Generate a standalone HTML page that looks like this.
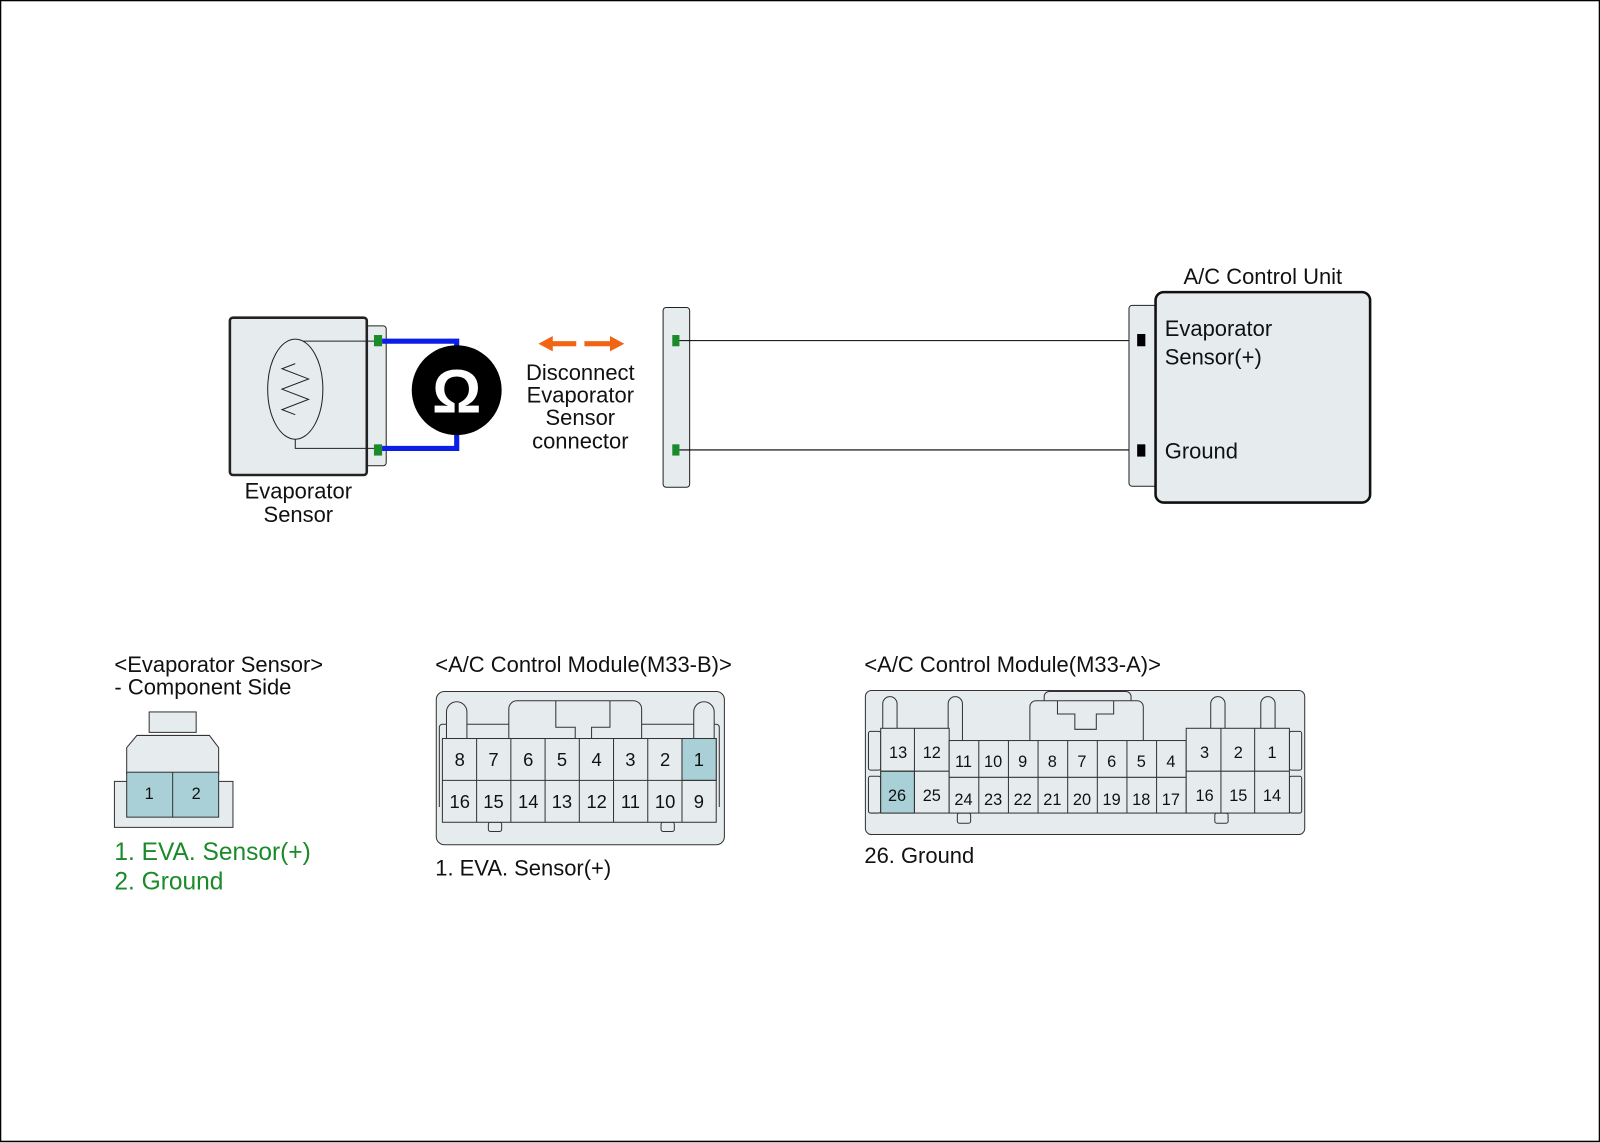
<!DOCTYPE html>
<html><head><meta charset="utf-8"><style>
html,body{margin:0;padding:0;background:#fff;}
svg{display:block;}
text{font-family:"Liberation Sans",sans-serif;fill:#111;}
</style></head><body>
<svg width="1600" height="1143" viewBox="0 0 1566 1119" preserveAspectRatio="none" xmlns="http://www.w3.org/2000/svg">
<rect x="0.5" y="0.5" width="1565" height="1117" fill="#fff" stroke="#000" stroke-width="1.5"/>
<g stroke="#222" fill="#e6ecee">
<rect x="358" y="319" width="20" height="137" rx="3" stroke-width="1"/>
<rect x="225" y="311" width="134" height="154" rx="3" stroke-width="2.5"/>
<polyline points="370,334 289,334 289,439 370,439" fill="none" stroke-width="1"/>
<ellipse cx="289" cy="381" rx="27" ry="49" stroke-width="1"/>
<polyline points="289,356 276,361 302,371 276,381 302,391 276,401 289,406" fill="none" stroke-width="1"/>
</g>
<rect x="366" y="328" width="8" height="11" fill="#1a8a2a"/>
<rect x="366" y="435" width="8" height="11" fill="#1a8a2a"/>
<polyline points="374,334 447,334 447,360" fill="none" stroke="#0a1ee8" stroke-width="5"/>
<polyline points="374,439 447,439 447,410" fill="none" stroke="#0a1ee8" stroke-width="5"/>
<circle cx="447" cy="382" r="44" fill="#000"/>
<text x="447" y="404" font-size="60" font-weight="bold" text-anchor="middle" style="fill:#fff">Ω</text>
<g fill="#f06414">
<rect x="538" y="334" width="26" height="5"/><polygon points="527,336.5 541,329 541,344"/>
<rect x="572" y="334" width="26" height="5"/><polygon points="611,336.5 597,329 597,344"/>
</g>
<g font-size="21.5" text-anchor="middle">
<text x="568" y="372">Disconnect</text>
<text x="568" y="394">Evaporator</text>
<text x="568" y="416">Sensor</text>
<text x="568" y="439">connector</text>
<text x="292" y="488">Evaporator</text>
<text x="292" y="511">Sensor</text>
<text x="1236" y="278">A/C Control Unit</text>
</g>
<rect x="649" y="301" width="26" height="176" rx="3" fill="#e6ecee" stroke="#222" stroke-width="1"/>
<rect x="658" y="328" width="7" height="11" fill="#1a8a2a"/>
<rect x="658" y="435" width="7" height="11" fill="#1a8a2a"/>
<line x1="665" y1="333.5" x2="1113" y2="333.5" stroke="#000" stroke-width="1"/>
<line x1="665" y1="440.5" x2="1113" y2="440.5" stroke="#000" stroke-width="1"/>
<rect x="1105" y="299" width="30" height="177" rx="3" fill="#e6ecee" stroke="#222" stroke-width="1"/>
<rect x="1131" y="286" width="210" height="206" rx="8" fill="#e6ecee" stroke="#111" stroke-width="2.5"/>
<rect x="1113" y="327" width="8" height="12" fill="#000"/>
<rect x="1113" y="435" width="8" height="12" fill="#000"/>
<g font-size="21.5">
<text x="1140" y="329">Evaporator</text>
<text x="1140" y="357">Sensor(+)</text>
<text x="1140" y="449">Ground</text>
<text x="112" y="658">&lt;Evaporator Sensor&gt;</text>
<text x="112" y="680">- Component Side</text>
<text x="426" y="658">&lt;A/C Control Module(M33-B)&gt;</text>
<text x="846" y="658">&lt;A/C Control Module(M33-A)&gt;</text>
<text x="426" y="857">1. EVA. Sensor(+)</text>
<text x="846" y="845">26. Ground</text>
</g>
<g font-size="24">
<text x="112" y="842" style="fill:#1a8a2a">1. EVA. Sensor(+)</text>
<text x="112" y="871" style="fill:#1a8a2a">2. Ground</text>
</g>
<g stroke="#333" stroke-width="1" fill="#e6ecee">
<rect x="112" y="765" width="116" height="45"/>
<rect x="146" y="697" width="46" height="20"/>
<polygon points="124,758 124,732 134,720 205,720 214,732 214,758"/>
<rect x="124" y="756" width="90" height="44" fill="#a9d0d6"/>
<line x1="169" y1="756" x2="169" y2="800"/>
</g>
<g font-size="16" text-anchor="middle"><text x="146" y="782">1</text><text x="192" y="782">2</text></g>
<g stroke="#333" stroke-width="1" fill="#e6ecee">
<rect x="427" y="677" width="282" height="150" rx="8"/>
<path d="M430,790 V712 a3,3 0 0 1 3,-3 H701 a3,3 0 0 1 3,3 V790" fill="none"/>
<path d="M437,723 V697 a10,10 0 0 1 20,0 V723" />
<path d="M679,723 V697 a10,10 0 0 1 20,0 V723" />
<path d="M498,723 V694 a8,8 0 0 1 8,-8 H620 a8,8 0 0 1 8,8 V723"/>
<path d="M544,686 V712 H563 V723 M579,723 V712 H597 V686" fill="none"/>
<rect x="478" y="805" width="13" height="9" rx="2"/>
<rect x="647" y="805" width="13" height="9" rx="2"/>
</g>
<g stroke="#333" stroke-width="1" fill="#e6ecee">
<rect x="433" y="723" width="268" height="82"/>
<rect x="667.5" y="723" width="33.5" height="41" fill="#a9d0d6"/>
<line x1="433" y1="764" x2="701" y2="764"/>
<line x1="466.5" y1="723" x2="466.5" y2="805"/><line x1="500" y1="723" x2="500" y2="805"/>
<line x1="533.5" y1="723" x2="533.5" y2="805"/><line x1="567" y1="723" x2="567" y2="805"/>
<line x1="600.5" y1="723" x2="600.5" y2="805"/><line x1="634" y1="723" x2="634" y2="805"/>
<line x1="667.5" y1="723" x2="667.5" y2="805"/>
</g>
<g font-size="18" text-anchor="middle">
<text x="450" y="750">8</text><text x="483" y="750">7</text><text x="517" y="750">6</text><text x="550" y="750">5</text><text x="584" y="750">4</text><text x="617" y="750">3</text><text x="651" y="750">2</text><text x="684" y="750">1</text>
<text x="450" y="791">16</text><text x="483" y="791">15</text><text x="517" y="791">14</text><text x="550" y="791">13</text><text x="584" y="791">12</text><text x="617" y="791">11</text><text x="651" y="791">10</text><text x="684" y="791">9</text>
</g>
<g stroke="#333" stroke-width="1" fill="#e6ecee">
<rect x="847" y="676" width="430" height="141" rx="6"/>
<rect x="850" y="716" width="12" height="38" rx="2"/><rect x="850" y="760" width="12" height="36" rx="2"/>
<rect x="1262" y="716" width="12" height="38" rx="2"/><rect x="1262" y="760" width="12" height="36" rx="2"/>
<path d="M864,713 V689 a7,7 0 0 1 14,0 V713"/>
<path d="M928,713 V689 a7,7 0 0 1 14,0 V725"/>
<path d="M1185,713 V689 a7,7 0 0 1 14,0 V713"/>
<path d="M1234,713 V689 a7,7 0 0 1 14,0 V713"/>
<path d="M1022,686 V682 a5,5 0 0 1 5,-5 H1102 a5,5 0 0 1 5,5 V686"/>
<path d="M1008,725 V692 a6,6 0 0 1 6,-6 H1113 a6,6 0 0 1 6,6 V725"/>
<path d="M1035,686 V699 H1052 V714 H1073 V699 H1090 V686" fill="none"/>
<rect x="937" y="796" width="13" height="10" rx="2"/>
<rect x="1189" y="796" width="13" height="10" rx="2"/>
<rect x="862" y="713" width="67" height="83"/>
<rect x="929" y="725" width="232" height="71"/>
<rect x="1161" y="713" width="101" height="83"/>
<rect x="862" y="755" width="33" height="41" fill="#a9d0d6"/>
<line x1="862" y1="755" x2="929" y2="755"/><line x1="895" y1="713" x2="895" y2="796"/>
<line x1="1161" y1="755" x2="1262" y2="755"/><line x1="1195" y1="713" x2="1195" y2="796"/><line x1="1228" y1="713" x2="1228" y2="796"/>
<line x1="929" y1="761" x2="1161" y2="761"/>
<line x1="958" y1="725" x2="958" y2="796"/><line x1="987" y1="725" x2="987" y2="796"/><line x1="1016" y1="725" x2="1016" y2="796"/>
<line x1="1045" y1="725" x2="1045" y2="796"/><line x1="1074" y1="725" x2="1074" y2="796"/><line x1="1103" y1="725" x2="1103" y2="796"/>
<line x1="1132" y1="725" x2="1132" y2="796"/>
</g>
<g font-size="16" text-anchor="middle">
<text x="879" y="742">13</text><text x="912" y="742">12</text>
<text x="878" y="784">26</text><text x="912" y="784">25</text>
<text x="943" y="751">11</text><text x="972" y="751">10</text><text x="1001" y="751">9</text><text x="1030" y="751">8</text><text x="1059" y="751">7</text><text x="1088" y="751">6</text><text x="1117" y="751">5</text><text x="1146" y="751">4</text>
<text x="943" y="788">24</text><text x="972" y="788">23</text><text x="1001" y="788">22</text><text x="1030" y="788">21</text><text x="1059" y="788">20</text><text x="1088" y="788">19</text><text x="1117" y="788">18</text><text x="1146" y="788">17</text>
<text x="1179" y="742">3</text><text x="1212" y="742">2</text><text x="1245" y="742">1</text>
<text x="1179" y="784">16</text><text x="1212" y="784">15</text><text x="1245" y="784">14</text>
</g>
</svg>
</body></html>
